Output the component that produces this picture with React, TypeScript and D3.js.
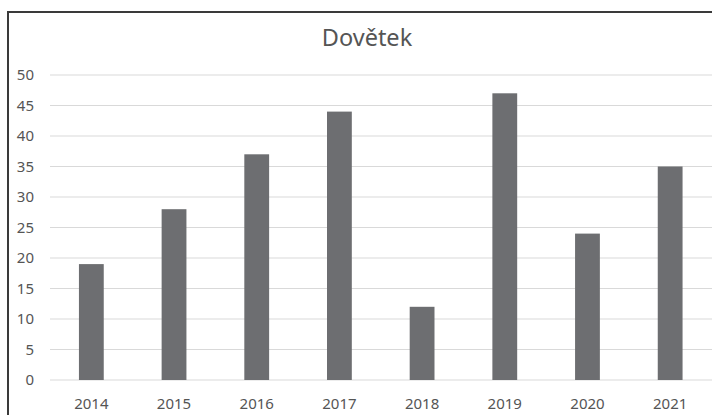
import { useEffect, useRef } from "react";
import * as d3 from "d3";

const years = ["2014", "2015", "2016", "2017", "2018", "2019", "2020", "2021"];
const values = [19, 28, 37, 44, 12, 47, 24, 35];
const yTicks = [0, 5, 10, 15, 20, 25, 30, 35, 40, 45, 50];
const title = "Dovětek";

export default function App() {
  const svgRef = useRef<SVGSVGElement | null>(null);

  useEffect(() => {
    if (!svgRef.current) return;
    const width = 712;
    const height = 415;
    const font = "Noto Sans, sans-serif";
    const textColor = "#555555";

    const svg = d3.select(svgRef.current);
    svg.selectAll("*").remove();
    svg.attr("width", width).attr("height", height);

    svg.append("rect").attr("width", width).attr("height", height).attr("fill", "#fff");

    // chart frame, cropped at right and bottom
    svg.append("rect")
      .attr("x", 8)
      .attr("y", 12)
      .attr("width", 720)
      .attr("height", 420)
      .attr("fill", "none")
      .attr("stroke", "#3a3a3a")
      .attr("stroke-width", 2);

    const x = d3.scaleBand<string>()
      .domain(years)
      .range([50, 711.5])
      .paddingInner(0.7)
      .paddingOuter(0.35);

    const y = d3.scaleLinear().domain([0, 50]).range([380, 75]);

    svg.append("text")
      .attr("x", 367)
      .attr("y", 46)
      .attr("text-anchor", "middle")
      .attr("font-family", font)
      .attr("font-size", 23.5)
      .attr("fill", textColor)
      .text(title);

    svg.append("g")
      .selectAll("line")
      .data(yTicks)
      .enter()
      .append("line")
      .attr("x1", 50)
      .attr("x2", 712)
      .attr("y1", d => y(d))
      .attr("y2", d => y(d))
      .attr("stroke", "#d9d9d9")
      .attr("stroke-width", 1.2);

    svg.append("g")
      .selectAll("text")
      .data(yTicks)
      .enter()
      .append("text")
      .attr("x", 34)
      .attr("y", d => y(d))
      .attr("dy", "0.35em")
      .attr("text-anchor", "end")
      .attr("font-family", font)
      .attr("font-size", 15)
      .attr("fill", textColor)
      .text(d => String(d));

    svg.append("g")
      .selectAll("rect")
      .data(values)
      .enter()
      .append("rect")
      .attr("x", (_, i) => x(years[i])!)
      .attr("width", x.bandwidth())
      .attr("y", d => y(d))
      .attr("height", d => y(0) - y(d))
      .attr("fill", "#6d6e71");

    svg.append("g")
      .selectAll("text")
      .data(years)
      .enter()
      .append("text")
      .attr("x", d => x(d)! + x.bandwidth() / 2)
      .attr("y", 409)
      .attr("text-anchor", "middle")
      .attr("font-family", font)
      .attr("font-size", 15)
      .attr("fill", textColor)
      .text(d => d);
  }, []);

  return (
    <svg ref={svgRef} style={{ position: "fixed", left: 0, top: 0, display: "block" }} />
  );
}
